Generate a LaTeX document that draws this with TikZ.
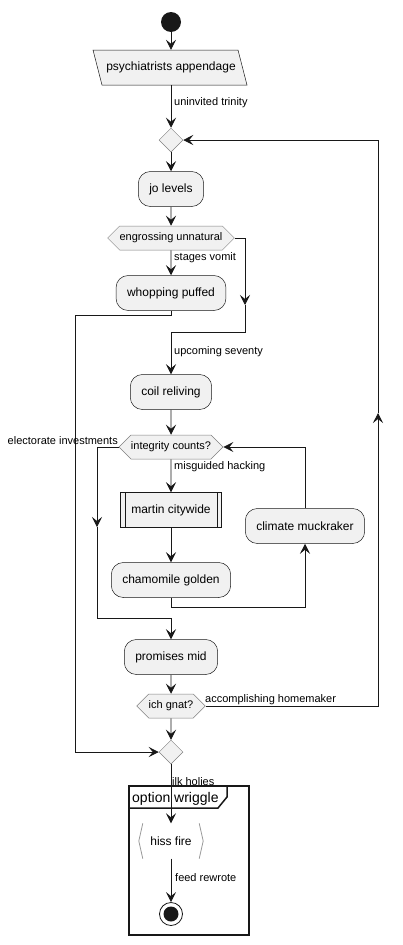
\documentclass[tikz,border=0pt]{standalone}
\usepackage{fontspec}
\setmainfont{Liberation Sans}
\usetikzlibrary{arrows.meta,shapes.geometric,shapes.symbols}
\definecolor{actfill}{HTML}{F1F1F1}
\definecolor{actline}{HTML}{181818}

\begin{document}
\begin{tikzpicture}[x=1pt,y=-1pt,>={Stealth[length=10pt,width=10pt,inset=4pt]}]
			\tikzstyle{act_node}= [draw=actline,fill=actfill,rectangle,rounded corners=12pt,line width=0.5pt,inner xsep=11pt,inner ysep=0pt,minimum height=35pt,font=\fontsize{12}{14}\selectfont]
			\tikzstyle{sub_node}= [act_node,rounded corners=0pt]
			\tikzstyle{hex_node}= [draw=black!50,fill=actfill,signal,signal to=west and east,signal pointer angle=90,line width=0.5pt,inner xsep=0pt,inner ysep=0pt,minimum height=24pt,font=\fontsize{11}{13}\selectfont]
			\tikzstyle{merge_node}= [draw=black!50,fill=actfill,diamond,line width=0.5pt,minimum width=24pt,minimum height=24pt,inner sep=0pt]
			\tikzstyle{flow}= [draw=actline,line width=0.8pt]
			\tikzstyle{flow_label}= [font=\fontsize{11}{13}\selectfont,anchor=west,inner sep=0pt]
			\useasboundingbox (0,0) rectangle (402,945);
			\coordinate (in1c) at (171,67.5);
			\filldraw [draw=actline,fill=actfill,line width=0.5pt] ([shift={(-78,-17.5)}]in1c) -- ([shift={(67,-17.5)}]in1c) -- ([shift={(76,17.5)}]in1c) -- ([shift={(-69,17.5)}]in1c) -- cycle;
			\node [circle,fill=actline,minimum size=20pt,inner sep=0pt] (st) at (171,22) {};
			\node [minimum width=145pt,minimum height=35pt,inner sep=0pt,font=\fontsize{12}{14}\selectfont] (in1) at (in1c) {psychiatrists appendage};
			\node [merge_node] (mg1) at (171,140) {};
			\node [act_node] (jo) at (171,189) {jo levels};
			\node [hex_node] (eu) at (171,238) {engrossing unnatural};
			\node [act_node] (wp) at (171,293) {whopping puffed};
			\node [act_node] (cr) at (171,392) {coil reliving};
			\node [hex_node] (ic) at (171,447) {integrity counts?};
			\node [sub_node] (mc) at (171,510) {martin citywide};
			\node [act_node] (cg) at (171,580) {chamomile golden};
			\node [act_node] (cm) at (305,526) {climate muckraker};
			\node [act_node] (pm) at (171,657) {promises mid};
			\node [hex_node] (ig) at (171,706) {ich gnat?};
			\node [merge_node] (mg2) at (171,752) {};
			\node [minimum width=64pt,minimum height=35pt,inner sep=0pt,font=\fontsize{12}{14}\selectfont] (hf) at (171,841) {hiss fire};
			\node [circle,draw=actline,fill=white,line width=0.8pt,minimum size=23pt,inner sep=0pt] (en) at (171,914) {};
			\fill [actline] (en) circle (7.5pt);
			\draw [actline] ([xshift=5pt]mc.north west) -- ([xshift=5pt]mc.south west);
			\draw [actline] ([xshift=-5pt]mc.north east) -- ([xshift=-5pt]mc.south east);
			\draw [black!40,line width=0.8pt] ([xshift=4pt]hf.north west) -- (hf.west) -- ([xshift=4pt]hf.south west);
			\draw [black!40,line width=0.8pt] ([xshift=-4pt]hf.north east) -- (hf.east) -- ([xshift=-4pt]hf.south east);
			\draw [actline,line width=1.5pt] (129,786) rectangle (249,935);
			\draw [actline,line width=1.5pt] (129,808) -- (218,808) -- (227,797) -- (227,786);
			\node [anchor=base west,inner sep=0pt,font=\fontsize{14}{16}\selectfont] (fr) at (132,802) {option wriggle};
			\coordinate (c1) at (245,305);
			\coordinate (c2) at (245,332);
			\coordinate (w1) at (75,315);
			\coordinate (i1) at (97,527);
			\coordinate (i2) at (97,618);
			\coordinate (g1) at (305,607);
			\coordinate (k1) at (378,413);
			\draw [flow,->] (st) -- (in1);
			\draw [flow,->] (in1) -- (mg1);
			\draw [flow,->] (mg1) -- (jo);
			\draw [flow,->] (jo) -- (eu);
			\draw [flow,->] (eu) -- (wp);
			\draw [flow,->] (eu.east) -| (c1);
			\draw [flow,->] (c1) -- (c2) -| (cr.north);
			\draw [flow,->] (wp.south) |- (w1) |- (mg2.west);
			\draw [flow,->] (cr) -- (ic);
			\draw [flow,->] (ic) -- (mc);
			\draw [flow,->] (mc) -- (cg);
			\draw [flow,->] (cg.south) |- (g1) -- (cm.south);
			\draw [flow,->] (cm.north) |- (ic.east);
			\draw [flow,->] (ic.west) -| (i1);
			\draw [flow,->] (i1) -- (i2) -| (pm.north);
			\draw [flow,->] (pm) -- (ig);
			\draw [flow,->] (ig) -- (mg2);
			\draw [flow,->] (ig.east) -| (k1);
			\draw [flow,->] (k1) |- (mg1.east);
			\draw [flow,->] (mg2) -- (hf);
			\draw [flow,->] (hf) -- (en);
			\node [flow_label] at (174,103) {uninvited trinity};
			\node [flow_label] at (174,258) {stages vomit};
			\node [flow_label] at (174,352) {upcoming seventy};
			\node [flow_label,anchor=east] at (118,441) {electorate investments};
			\node [flow_label] at (174,467) {misguided hacking};
			\node [flow_label] at (205,700) {accomplishing homemaker};
			\node [flow_label] at (172,782) {ilk holies};
			\node [flow_label] at (175,878) {feed rewrote};
		\end{tikzpicture}
\end{document}
